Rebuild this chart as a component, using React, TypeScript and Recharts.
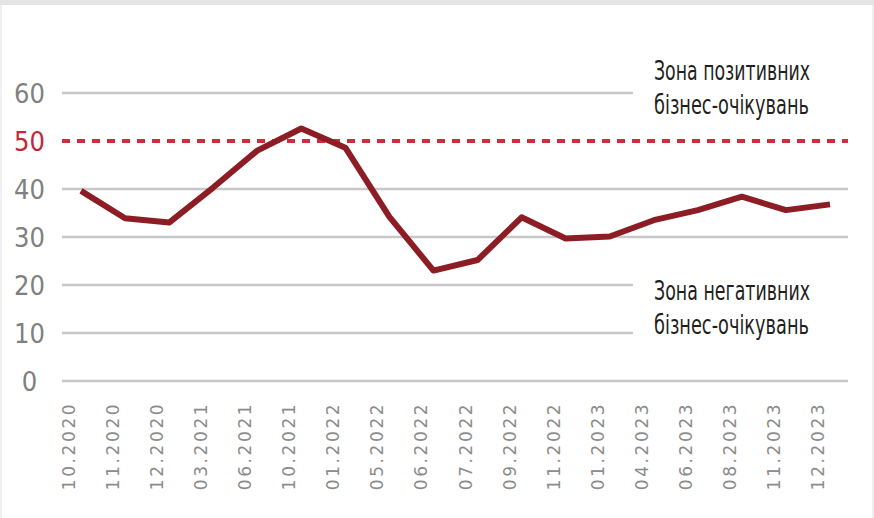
import React from 'react';
import { LineChart, Line, XAxis, YAxis, ReferenceLine } from 'recharts';

// survey months shown on the category axis
const months = [
  '10.2020', '11.2020', '12.2020', '03.2021', '06.2021', '10.2021',
  '01.2022', '05.2022', '06.2022', '07.2022', '09.2022', '11.2022',
  '01.2023', '04.2023', '06.2023', '08.2023', '11.2023', '12.2023',
];
// business expectations index
const index = [39.6, 33.9, 33, 40.3, 48, 52.6, 48.6, 34.2, 23, 25.2, 34.1, 29.7, 30.1, 33.5, 35.6, 38.4, 35.6, 36.8];

const yTicks = [0, 10, 20, 30, 40, 50, 60];
const gridValues = [0, 10, 20, 30, 40, 60];
const threshold = 50;

const notePositive = ['Зона позитивних', 'бізнес-очікувань'];
const noteNegative = ['Зона негативних', 'бізнес-очікувань'];

const data = months.map((m, i) => ({ month: m, v: index[i] }));

const NARROW = "'Liberation Sans Narrow', 'DejaVu Sans Condensed', 'Roboto', sans-serif";

const XTick = ({ x, y, payload }: any) => (
  <g transform={`translate(${x - 6},${y + 65}) rotate(-90)`}>
    <text x={0} y={0} textAnchor="middle" fill="#8c8c8c" fontSize={17}
      fontFamily="'DejaVu Sans', sans-serif" letterSpacing={2.6}>
      {payload.value}
    </text>
  </g>
);

const YTick = ({ x, y, payload }: any) => (
  <text x={x - 32.5} y={y + 9.5} textAnchor="middle" fontSize={27} fontFamily={NARROW}
    fill={payload.value === threshold ? '#c0283a' : '#808080'}>
    {payload.value}
  </text>
);

const makeNote = (lines: string[], rectTop: number, rectH: number, base: number) => (props: any) => {
  const vb = props.viewBox || {};
  const right = vb.x + vb.width;
  return (
    <g>
      <rect x={right - 215} y={vb.y + rectTop} width={230} height={rectH} fill="#fff" />
      {lines.map((t, i) => (
        <text key={i} x={right - 194} y={vb.y + base + i * 34} fontSize={26} fontFamily={NARROW}
          fill="#231f20" textLength={i === 0 ? 156 : 155} lengthAdjust="spacingAndGlyphs">
          {t}
        </text>
      ))}
    </g>
  );
};

export default function App() {
  return (
    <div style={{ position: 'absolute', left: 0, top: 0, width: 874, height: 518, background: '#fff' }}>
      <div style={{ position: 'absolute', left: 0, top: 0, width: 874, height: 5, background: '#e4e4e4' }} />
      <div style={{ position: 'absolute', left: 0, top: 5, width: 2, height: 513, background: '#efefef' }} />
      <div style={{ position: 'absolute', right: 0, top: 5, width: 2, height: 513, background: '#efefef' }} />
      <div style={{ position: 'absolute', left: 0, top: 0 }}>
        <LineChart width={874} height={518} data={data}
          margin={{ top: 93, right: 26, bottom: 0, left: 0 }}>
          <XAxis dataKey="month" axisLine={false} tickLine={false} tickSize={0} tickMargin={0}
            interval={0} height={137} padding={{ left: 19, right: 18 }} tick={<XTick />} />
          <YAxis domain={[0, 60]} ticks={yTicks} axisLine={false} tickLine={false} tickSize={0}
            tickMargin={0} width={62} tick={<YTick />} />
          {gridValues.map((g) => (
            <ReferenceLine key={g} y={g} stroke="#c8c8c8" strokeWidth={2.5} />
          ))}
          <ReferenceLine y={threshold} stroke="#c8303c" strokeWidth={4} strokeDasharray="8 7" />
          <ReferenceLine y={60} stroke="none" label={makeNote(notePositive, -38, 70, -13)} />
          <ReferenceLine y={20} stroke="none" label={makeNote(noteNegative, -15, 75, 15)} />
          <Line type="linear" dataKey="v" stroke="#8c1d24" strokeWidth={6} dot={false}
            isAnimationActive={false} strokeLinejoin="round" />
        </LineChart>
      </div>
    </div>
  );
}
